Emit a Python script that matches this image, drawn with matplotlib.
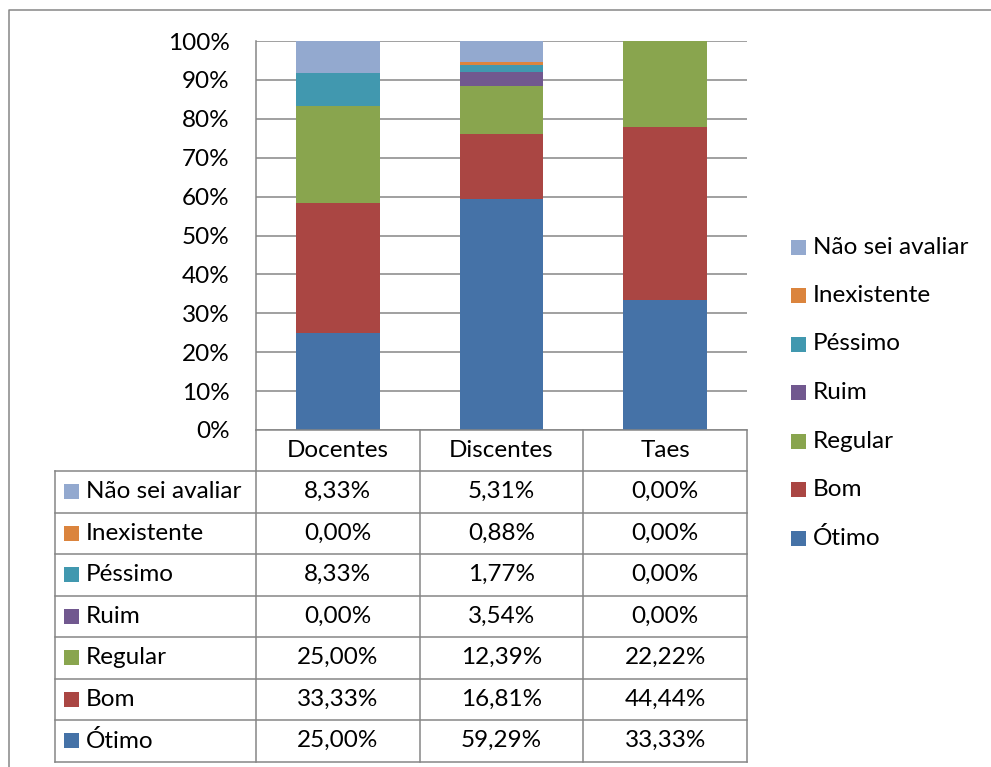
import matplotlib.pyplot as plt
import numpy as np

plt.rcParams['font.family'] = ['Lato', 'DejaVu Sans']

# data
groups = ['Docentes', 'Discentes', 'Taes']
# stacking order, bottom to top
series = ['Ótimo', 'Bom', 'Regular', 'Ruim', 'Péssimo', 'Inexistente', 'Não sei avaliar']
otimo = [25.00, 59.29, 33.33]
bom = [33.33, 16.81, 44.44]
regular = [25.00, 12.39, 22.22]
ruim = [0.00, 3.54, 0.00]
pessimo = [8.33, 1.77, 0.00]
inexistente = [0.00, 0.88, 0.00]
nao_sei = [8.33, 5.31, 0.00]
values = [otimo, bom, regular, ruim, pessimo, inexistente, nao_sei]
colors = ['#4572A7', '#AA4643', '#89A54E', '#71588F', '#4198AF', '#DB843D', '#93A9CF']
yticks = [0, 10, 20, 30, 40, 50, 60, 70, 80, 90, 100]

W, H = 991, 767
grid_c = '#868686'
fs = 17.5

fig = plt.figure(figsize=(W / 100, H / 100), dpi=100)

# plot area in pixels
px_l, px_r, px_t, px_b = 256, 747, 41, 430
ax = fig.add_axes([px_l / W, 1 - px_b / H, (px_r - px_l) / W, (px_b - px_t) / H])

x = np.arange(len(groups))
bottom = np.zeros(len(groups))
for name, vals, c in zip(series, values, colors):
    ax.bar(x, vals, 0.51, bottom=bottom, color=c, zorder=3, linewidth=0)
    bottom += np.array(vals)

ax.set_xlim(-0.5, len(groups) - 0.5)
ax.set_ylim(0, 100)
ax.set_yticks(yticks)
ax.set_yticklabels([f'{v}%' for v in yticks], fontsize=fs)
ax.tick_params(axis='y', length=0, pad=19)
ax.set_xticks([])
ax.yaxis.grid(True, color=grid_c, linewidth=1.1, zorder=0)
for s in ['top', 'right', 'bottom']:
    ax.spines[s].set_visible(False)
ax.spines['left'].set_color(grid_c)
ax.spines['left'].set_linewidth(1.1)

# overlay in pixel coords for table, legend and border
ov = fig.add_axes([0, 0, 1, 1], zorder=5)
ov.set_xlim(0, W)
ov.set_ylim(H, 0)
ov.axis('off')
ov.patch.set_alpha(0)

# outer chart border
ov.plot([9, 9, W + 5], [H + 5, 10, 10], color=grid_c, lw=1.1)

# data table
col_w = (px_r - px_l) / len(groups)
col_x = [px_l + i * col_w for i in range(len(groups) + 1)]
tab_l = 55
head_b = 471
row_h = 41.5
rows = series[::-1]
row_vals = values[::-1]
row_cols = colors[::-1]
tab_b = head_b + row_h * len(rows)

# header
for i, g in enumerate(groups):
    ov.text((col_x[i] + col_x[i + 1]) / 2, (px_b + head_b) / 2, g,
            ha='center', va='center', fontsize=fs)
ov.plot([px_r, px_r], [px_b, tab_b], color=grid_c, lw=1.1)
for cx in col_x[:-1]:
    ov.plot([cx, cx], [px_b, tab_b], color=grid_c, lw=1.1)
ov.plot([px_l, px_r], [px_b, px_b], color=grid_c, lw=1.1)
ov.plot([tab_l, tab_l], [head_b, tab_b], color=grid_c, lw=1.1)
for r in range(len(rows) + 1):
    y = head_b + r * row_h
    ov.plot([tab_l, px_r], [y, y], color=grid_c, lw=1.1)

for r, (name, vals, c) in enumerate(zip(rows, row_vals, row_cols)):
    yc = head_b + (r + 0.5) * row_h
    ov.add_patch(plt.Rectangle((64, yc - 7.5), 15, 15, color=c, lw=0))
    ov.text(86, yc, name, ha='left', va='center', fontsize=fs)
    for i, v in enumerate(vals):
        ov.text((col_x[i] + col_x[i + 1]) / 2, yc, f'{v:.2f}%'.replace('.', ','),
                ha='center', va='center', fontsize=fs)

# legend
leg_y0 = 247
leg_dy = 48.5
for k, (name, c) in enumerate(zip(rows, row_cols)):
    yc = leg_y0 + k * leg_dy
    ov.add_patch(plt.Rectangle((791, yc - 7.5), 15, 15, color=c, lw=0))
    ov.text(813, yc, name, ha='left', va='center', fontsize=fs)

fig.savefig('out.png', dpi=100)
